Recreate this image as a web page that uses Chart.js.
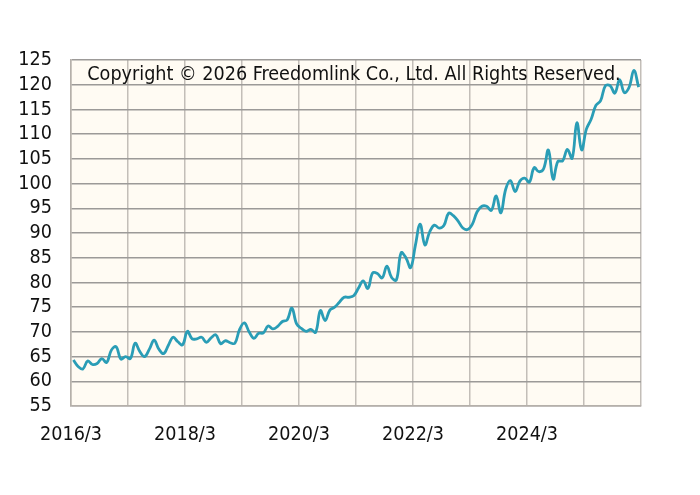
<!DOCTYPE html>
<html>
<head>
<meta charset="utf-8">
<script src="https://cdn.jsdelivr.net/npm/chart.js@4/dist/chart.umd.min.js"></script>
<style>
  html, body { margin: 0; padding: 0; background: #fff; }
  #wrap { width: 700px; height: 495px; }
</style>
</head>
<body>
<div id="wrap"><canvas id="chart" width="700" height="495"></canvas></div>
<script>
// monthly values, 2016/3 .. 2026/2
const values = [
  64.3, 63.0, 62.5, 64.1, 63.4, 63.6, 64.6, 63.8, 66.3, 67.0,
  64.5, 65.0, 64.6, 67.7, 66.0, 65.0, 66.5, 68.3, 66.5, 65.6,
  67.3, 68.9, 68.0, 67.4, 70.1, 68.6, 68.6, 68.9, 67.9, 68.8,
  69.4, 67.6, 68.2, 67.8, 67.7, 70.5, 71.8, 70.0, 68.7, 69.7,
  69.8, 71.2, 70.6, 71.1, 72.1, 72.4, 74.8, 71.6, 70.7, 70.1,
  70.5, 69.9, 74.3, 72.3, 74.4, 75.0, 76.0, 77.0, 77.0, 77.3,
  78.8, 80.3, 78.8, 81.9, 81.8, 80.9, 83.3, 81.0, 80.5, 86.0,
  85.0, 83.0, 87.5, 91.8, 87.6, 90.2, 91.6, 91.0, 91.5, 94.0,
  93.5, 92.4, 91.0, 90.7, 91.8, 94.3, 95.4, 95.4, 94.6, 97.5,
  94.1, 98.8, 100.6, 98.4, 100.5, 101.1, 100.3, 103.2, 102.4, 103.0,
  106.8, 100.9, 104.5, 104.6, 106.9, 105.1, 112.3, 106.8, 111.0, 113.0,
  115.8, 116.8, 119.8, 119.8, 118.3, 121.0, 118.4, 119.5, 122.9, 119.5,
];

// tick labels every 2 years (24 months)
const tickLabels = ["2016/3", "2018/3", "2020/3", "2022/3", "2024/3"];

const yMin = 55;
const yMax = 125;
const copyright = "Copyright \u00a9 2026 Freedomlink Co., Ltd. All Rights Reserved.";

const fontFamily = "'DejaVu Sans Condensed', 'DejaVu Sans', sans-serif";
const fontSize = 19.6;

// points sit in the middle of each month slot
const points = values.map((v, i) => ({ x: i + 0.5, y: v }));

// fondo crema + texto de copyright
const plotDeco = {
  id: "plotDeco",
  beforeDraw(chart) {
    const { ctx, chartArea } = chart;
    ctx.save();
    ctx.fillStyle = "#fffbf3";
    ctx.fillRect(chartArea.left, chartArea.top, chartArea.width, chartArea.height);
    ctx.restore();
  },
  afterDatasetsDraw(chart) {
    const { ctx, chartArea } = chart;
    ctx.save();
    ctx.font = fontSize + "px " + fontFamily;
    ctx.fillStyle = "#111";
    ctx.textAlign = "center";
    ctx.textBaseline = "middle";
    ctx.fillText(copyright, (chartArea.left + chartArea.right) / 2 - 2, chartArea.top + 15);
    ctx.restore();
  },
};

const ctx = document.getElementById("chart").getContext("2d");
new Chart(ctx, {
  type: "line",
  data: {
    datasets: [
      {
        data: points,
        borderColor: "#2a9db6",
        borderWidth: 2.8,
        pointRadius: 0,
        tension: 0.4,
        fill: false,
      },
    ],
  },
  options: {
    responsive: false,
    animation: false,
    layout: { padding: { left: 0, right: 59, top: 60, bottom: 0 } },
    plugins: {
      legend: { display: false },
      tooltip: { enabled: false },
    },
    scales: {
      x: {
        type: "linear",
        min: 0,
        max: 120,
        afterFit(scale) {
          scale.height = 89;
        },
        afterBuildTicks(scale) {
          const t = [];
          for (let v = 0; v <= 120; v += 12) t.push({ value: v });
          scale.ticks = t;
        },
        ticks: {
          autoSkip: false,
          maxRotation: 0,
          padding: 17,
          color: "#111",
          font: { family: fontFamily, size: fontSize },
          callback: (v) => (v % 24 === 0 && v / 24 < tickLabels.length ? tickLabels[v / 24] : ""),
        },
        grid: { color: "#c3beb8", lineWidth: 1.5, drawTicks: false },
        border: { color: "#b5b0aa", width: 1.5 },
      },
      y: {
        min: yMin,
        max: yMax,
        afterFit(scale) {
          scale.width = 71;
        },
        ticks: {
          stepSize: 5,
          autoSkip: false,
          padding: 19,
          color: "#111",
          font: { family: fontFamily, size: fontSize },
        },
        grid: { color: "#9c9a98", lineWidth: 1.5, drawTicks: false },
        border: { color: "#b5b0aa", width: 1.5 },
      },
    },
  },
  plugins: [plotDeco],
});
</script>
</body>
</html>
